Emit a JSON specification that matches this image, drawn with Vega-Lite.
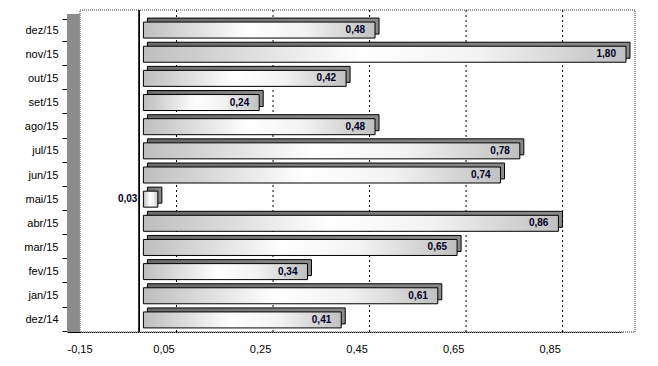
{
  "$schema": "https://vega.github.io/schema/vega-lite/v6.json",
  "width": 555,
  "height": 314,
  "autosize": "none",
  "padding": {"left": 67, "top": 18, "right": 36, "bottom": 34},
  "background": "white",
  "config": {
    "view": {"stroke": null},
    "locale": {"number": {"decimal": ",", "thousands": ".", "grouping": [3], "currency": ["R$", ""], "minus": "-"}},
    "font": "Liberation Sans"
  },
  "datasets": {
    "bars": [
      {"mes": "dez/15", "valor": 0.48},
      {"mes": "nov/15", "valor": 1.80},
      {"mes": "out/15", "valor": 0.42},
      {"mes": "set/15", "valor": 0.24},
      {"mes": "ago/15", "valor": 0.48},
      {"mes": "jul/15", "valor": 0.78},
      {"mes": "jun/15", "valor": 0.74},
      {"mes": "mai/15", "valor": 0.03},
      {"mes": "abr/15", "valor": 0.86},
      {"mes": "mar/15", "valor": 0.65},
      {"mes": "fev/15", "valor": 0.34},
      {"mes": "jan/15", "valor": 0.61},
      {"mes": "dez/14", "valor": 0.41}
    ],
    "grid": [{"v": 0.05}, {"v": 0.25}, {"v": 0.45}, {"v": 0.65}, {"v": 0.85}]
  },
  "data": {"name": "bars"},
  "encoding": {
    "y": {
      "field": "mes", "type": "nominal", "sort": null, "title": null,
      "axis": {"domain": false, "tickBand": "extent", "tickSize": 5, "tickColor": "#000", "labelPadding": 4, "labelFontSize": 11, "labelColor": "#000", "labelFont": "Liberation Sans"}
    }
  },
  "layer": [
    {
      "mark": {"type": "rule", "color": "#8c8c8c", "strokeWidth": 13, "xOffset": 6.5, "yOffset": -4, "y2Offset": 0},
      "encoding": {"x": {"datum": -0.15, "type": "quantitative", "title": null, "scale": {"domain": [-0.15, 1.0], "clamp": true, "nice": false, "zero": false},
        "axis": {"values": [-0.15, 0.05, 0.25, 0.45, 0.65, 0.85], "format": ".2f", "grid": false, "ticks": false, "domainColor": "#000", "labelPadding": 11, "labelFontSize": 11, "labelColor": "#000", "labelFont": "Liberation Sans", "title": null}},
        "y": null}
    },
    {
      "mark": {"type": "rect", "fill": null, "stroke": "#9a9a9a", "strokeDash": [1, 1], "strokeWidth": 1, "xOffset": 13, "x2Offset": 13, "yOffset": -8, "y2Offset": -8},
      "encoding": {"x": {"datum": -0.15, "type": "quantitative", "title": null}, "x2": {"datum": 1.0}, "y": null}
    },
    {
      "data": {"name": "grid"},
      "mark": {"type": "rule", "color": "#000", "strokeDash": [2, 3], "strokeWidth": 1, "xOffset": 13, "yOffset": -8, "y2Offset": -8},
      "encoding": {"x": {"field": "v", "type": "quantitative", "title": null}, "y": null}
    },
    {
      "mark": {"type": "rule", "color": "#000", "strokeWidth": 1, "yOffset": -8, "y2Offset": 0},
      "encoding": {"x": {"datum": 0, "type": "quantitative", "title": null}, "y": null}
    },
    {
      "mark": {"type": "bar", "size": 16, "stroke": "#000", "strokeWidth": 1,
        "color": {"gradient": "linear", "x1": 0, "x2": 1, "y1": 0, "y2": 0, "stops": [{"offset": 0, "color": "#6a6a6a"}, {"offset": 1, "color": "#8a8a8a"}]},
        "xOffset": 8, "x2Offset": 8, "yOffset": -4, "y2Offset": -4},
      "encoding": {"x": {"field": "valor", "type": "quantitative", "title": null}, "x2": {"datum": 0}}
    },
    {
      "mark": {"type": "bar", "size": 16, "stroke": "#000", "strokeWidth": 1,
        "color": {"gradient": "linear", "x1": 0, "x2": 1, "y1": 0, "y2": 0, "stops": [{"offset": 0, "color": "#bebebe"}, {"offset": 0.45, "color": "#ffffff"}, {"offset": 0.7, "color": "#f2f2f2"}, {"offset": 1, "color": "#c0c0c0"}]},
        "xOffset": 4, "x2Offset": 4},
      "encoding": {"x": {"field": "valor", "type": "quantitative", "title": null}, "x2": {"datum": 0}}
    },
    {
      "transform": [{"filter": "datum.valor >= 0.1"}],
      "mark": {"type": "text", "align": "right", "baseline": "middle", "dx": -6, "fontSize": 10, "fontWeight": "bold", "color": "#000022"},
      "encoding": {"x": {"field": "valor", "type": "quantitative", "title": null}, "text": {"field": "valor", "type": "quantitative", "format": ".2f"}}
    },
    {
      "transform": [{"filter": "datum.valor < 0.1"}],
      "mark": {"type": "text", "align": "right", "baseline": "middle", "dx": -2, "fontSize": 10, "fontWeight": "bold", "color": "#000022"},
      "encoding": {"x": {"datum": 0, "type": "quantitative", "title": null}, "text": {"field": "valor", "type": "quantitative", "format": ".2f"}}
    }
  ]
}
